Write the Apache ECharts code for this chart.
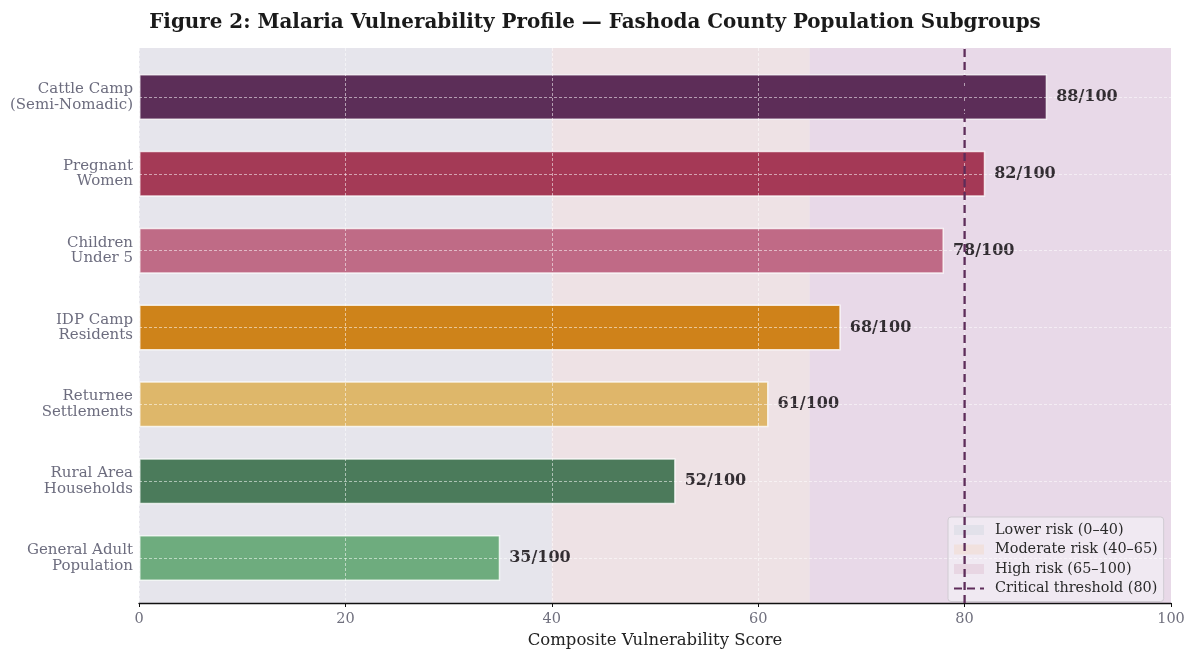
<!DOCTYPE html>
<html>
<head>
<meta charset="utf-8">
<script src="https://cdn.jsdelivr.net/npm/echarts@6/dist/echarts.min.js"></script>
<style>
  html, body { margin: 0; padding: 0; background: #ffffff; }
  #chart { width: 1190px; height: 654px; }
</style>
</head>
<body>
<div id="chart"></div>
<script>
// Population subgroups, top to bottom
const groups = [
  'Cattle Camp\n(Semi-Nomadic)',
  'Pregnant\nWomen',
  'Children\nUnder 5',
  'IDP Camp\nResidents',
  'Returnee\nSettlements',
  'Rural Area\nHouseholds',
  'General Adult\nPopulation'
];
// Composite vulnerability score (0–100)
const scores = [88, 82, 78, 68, 61, 52, 35];
const barColors = ['#4d1948', '#9c2746', '#ba5d7b', '#cb7803', '#ddb15c', '#3a6f4b', '#61a572'];

// Risk bands along the score axis
const bandNames = ['Lower risk (0\u201340)', 'Moderate risk (40\u201365)', 'High risk (65\u2013100)'];
const bandRanges = [[0, 40], [40, 65], [65, 100]];
const bandColors = ['#e6e5ec', '#eee2e5', '#e8d9e8'];
const legendPatch = ['#e2e1ea', '#f1e1de', '#e8d6e3'];

const thresholdName = 'Critical threshold (80)';
const threshold = 80;

const xTicks = [0, 20, 40, 60, 80, 100];

const serif = '"DejaVu Serif", "Liberation Serif", serif';

const chart = echarts.init(document.getElementById('chart'), null, { renderer: 'canvas' });

const bandSeries = bandNames.map((name, i) => ({
  name: name,
  type: 'line',
  xAxisIndex: 0,
  yAxisIndex: 0,
  data: [],
  itemStyle: { color: legendPatch[i] },
  silent: true,
  markArea: {
    silent: true,
    z: 1,
    itemStyle: { color: bandColors[i] },
    data: [[{ xAxis: bandRanges[i][0] }, { xAxis: bandRanges[i][1] }]]
  }
}));

const option = {
  backgroundColor: '#ffffff',
  animation: false,
  title: {
    text: 'Figure 2: Malaria Vulnerability Profile \u2014 Fashoda County Population Subgroups',
    left: 'center',
    top: 8,
    textStyle: { fontFamily: serif, fontWeight: 'bold', fontSize: 19.9, color: '#1a1a1a' }
  },
  legend: {
    orient: 'vertical',
    left: 948,
    top: 517,
    padding: [6, 6, 6, 5],
    itemGap: 5.5,
    itemWidth: 30,
    itemHeight: 10,
    backgroundColor: 'rgba(240,234,242,0.92)',
    borderColor: '#d0cbd2',
    borderWidth: 1,
    borderRadius: 3,
    textStyle: { fontFamily: serif, fontSize: 14.4, color: '#2a2a2a', padding: [0, 0, 0, 6] },
    data: [
      { name: bandNames[0], icon: 'rect' },
      { name: bandNames[1], icon: 'rect' },
      { name: bandNames[2], icon: 'rect' },
      { name: thresholdName, itemStyle: { opacity: 0 } }
    ]
  },
  grid: [
    { left: 139, width: 1032, top: 48, height: 559, show: true, backgroundColor: '#eaeaf2', borderWidth: 0 },
    { left: 139, width: 1032, top: 58.6, height: 537.8, show: false }
  ],
  xAxis: [
    {
      gridIndex: 0,
      type: 'value',
      min: 0,
      max: 100,
      interval: 20,
      z: 3,
      name: 'Composite Vulnerability Score',
      nameLocation: 'middle',
      nameGap: 29,
      nameTextStyle: { fontFamily: serif, fontSize: 16.5, color: '#222222' },
      axisLine: { show: true, lineStyle: { color: '#111111', width: 1.3 } },
      axisTick: { show: true, length: 4, lineStyle: { color: '#111111' } },
      axisLabel: {
        fontFamily: serif, fontSize: 14.5, color: '#70707e', margin: 9,
        formatter: v => (xTicks.indexOf(v) >= 0 ? String(v) : '')
      },
      splitLine: { show: true, lineStyle: { color: 'rgba(255,255,255,0.6)', width: 0.9, type: [3, 2] } }
    },
    {
      gridIndex: 1,
      type: 'value',
      min: 0,
      max: 100,
      show: false
    }
  ],
  yAxis: [
    {
      gridIndex: 0,
      type: 'value',
      min: 0,
      max: 1,
      show: false
    },
    {
      gridIndex: 1,
      type: 'category',
      inverse: true,
      data: groups,
      axisLine: { show: false },
      axisTick: { show: false },
      splitLine: { show: false },
      axisLabel: {
        fontFamily: serif, fontSize: 15, color: '#6c6c7e', lineHeight: 15.5, align: 'right', margin: 6,
        padding: [8, 0, 0, 0]
      }
    }
  ],
  series: bandSeries.concat([
    {
      name: 'Score',
      type: 'bar',
      xAxisIndex: 1,
      yAxisIndex: 1,
      z: 2,
      barWidth: 46,
      data: scores.map((v, i) => ({
        value: v,
        itemStyle: { color: barColors[i], opacity: 0.9 }
      })),
      itemStyle: { borderColor: 'rgba(255,255,255,0.85)', borderWidth: 1.5 },
      label: {
        show: true,
        position: 'right',
        distance: 9,
        formatter: p => p.value + '/100',
        fontFamily: serif,
        fontWeight: 'bold',
        fontSize: 16,
        color: '#1e1a1e'
      },
      markLine: {
        silent: true,
        symbol: 'none',
        z: 4,
        label: { show: false },
        lineStyle: { color: 'rgba(255,255,255,0.6)', width: 0.9, type: [3, 2] },
        data: groups.map(g => ({ yAxis: g }))
      }
    },
    {
      name: thresholdName,
      type: 'line',
      xAxisIndex: 0,
      yAxisIndex: 0,
      z: 6,
      symbol: 'none',
      silent: true,
      data: [[threshold, 0], [threshold, 1]],
      itemStyle: { color: '#5e2d5a' },
      lineStyle: { color: '#5e2d5a', width: 2.3, type: [8, 5] }
    }
  ])
};

chart.setOption(option);
</script>
</body>
</html>
